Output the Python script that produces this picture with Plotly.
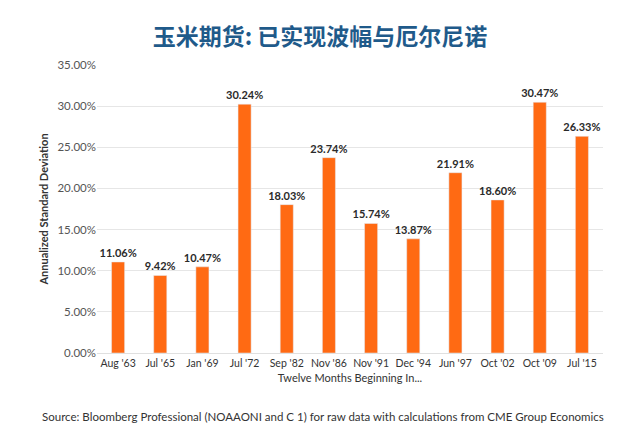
import plotly.graph_objects as go

categories = ["Aug '63", "Jul '65", "Jan '69", "Jul '72", "Sep '82", "Nov '86",
              "Nov '91", "Dec '94", "Jun '97", "Oct '02", "Oct '09", "Jul '15"]
values = [11.06, 9.42, 10.47, 30.24, 18.03, 23.74, 15.74, 13.87, 21.91, 18.60, 30.47, 26.33]
tick_vals = [0, 5, 10, 15, 20, 25, 30, 35]
tick_text = ["0.00%", "5.00%", "10.00%", "15.00%", "20.00%", "25.00%", "30.00%", "35.00%"]

fig = go.Figure(go.Bar(
    x=categories, y=values,
    marker=dict(color="#ff6a13"),
    text=[f"<b>{v:.2f}%</b>" for v in values],
    textposition="outside",
    constraintext="none",
    textfont=dict(family="Lato", size=11, color="#2a2a2a"),
    cliponaxis=False,
))

fig.update_layout(
    width=640, height=444,
    margin=dict(l=97, r=37, t=65, b=91),
    paper_bgcolor="white", plot_bgcolor="white",
    bargap=0.69,
    showlegend=False,
    font=dict(family="Lato", color="#444444"),
    title=dict(text="<b>玉米期货: 已实现波幅与厄尔尼诺</b>",
               font=dict(family="Noto Sans CJK SC", size=23, color="#1f5a8a"),
               x=0.5, xanchor="center", y=0.916, yanchor="middle"),
    xaxis=dict(title=dict(text="Twelve Months Beginning In...", font=dict(size=11, color="#333333"), standoff=6),
               tickfont=dict(size=10.5, color="#333333"), showline=True, linecolor="#e0e0e0",
               ticks="", showgrid=False),
    yaxis=dict(range=[0, 35], tickvals=tick_vals, ticktext=tick_text,
               tickfont=dict(size=11.5, color="#555555"),
               title=dict(text="<b>Annualized Standard Deviation</b>", font=dict(size=11, color="#333333"), standoff=6),
               gridcolor="#e6e6e6", zeroline=False, ticks="", ticklen=0),
)

fig.add_annotation(text="Source: Bloomberg Professional (NOAAONI and C 1) for raw data with calculations from CME Group Economics",
                   xref="paper", yref="paper", x=-0.113, y=-0.219, xanchor="left", yanchor="middle",
                   showarrow=False, font=dict(family="Lato", size=11.5, color="#333333"))

fig.write_html("out.html", config={"displayModeBar": False},
               post_script="document.body.style.margin='0px';")
